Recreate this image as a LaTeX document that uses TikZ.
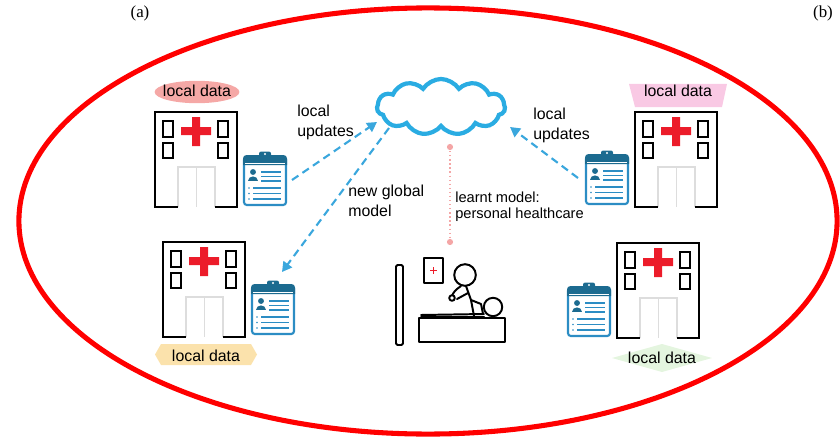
\documentclass[tikz,border=0pt]{standalone}
\usepackage{fontspec}
\setmainfont{Liberation Sans}
\newfontfamily\serifface{Liberation Serif}
\usetikzlibrary{arrows.meta,shapes.symbols}

\definecolor{ringred}{HTML}{FF0000}
\definecolor{cloudblue}{HTML}{2AACE2}
\definecolor{arrowblue}{HTML}{3AA7DD}
\definecolor{cbdark}{HTML}{1C6B90}
\definecolor{cbblue}{HTML}{2C8DC4}
\definecolor{crossred}{HTML}{EC1C2A}
\definecolor{doorgray}{HTML}{DDDDDD}
\definecolor{salmon}{HTML}{F5A8A6}
\definecolor{pinklabel}{HTML}{F9C9E4}
\definecolor{peach}{HTML}{FBE2AC}
\definecolor{mint}{HTML}{E4F5DF}
\definecolor{dotpink}{HTML}{F4A6A6}

\tikzset{
  lbl/.style={font=\fontsize{11.3}{14.2}\selectfont, inner sep=0pt, align=left, anchor=north west},
  datalbl/.style={font=\fontsize{11.3}{14.2}\selectfont, inner sep=0pt},
  flow/.style={arrowblue, line width=1.5pt, dash pattern=on 5.5pt off 3.5pt,
               -{Triangle[length=7pt,width=7.5pt]}},
  stick/.style={line width=1.4pt, line cap=round, line join=round},
  % hospital building, origin at its top-left corner (82 x 95 px)
  hospital/.pic={
    \draw[doorgray, line width=1.4pt] (23,95) -- (23,55) -- (60,55) -- (60,95)
                                      (41.5,55) -- (41.5,95);
    \draw[black, line width=1.5pt] (23,95) -- (0,95) -- (0,0) -- (82,0) -- (82,95) -- (60,95);
    \draw[black, line width=1.4pt] (8,9) rectangle (18,25) (8,31) rectangle (18,46)
                                   (63,9) rectangle (73,25) (63,31) rectangle (73,46);
    \fill[crossred] (26,15) rectangle (56,23) (37,5) rectangle (45,34);
  },
  % patient record clipboard, origin at its top-left corner (44 x 55 px)
  clipboard/.pic={
    \draw[cbblue, fill=white, line width=1.5pt, rounded corners=2pt] (1,6) rectangle (43,54);
    \fill[cbdark] (0,14) {[rounded corners=2.5pt] -- (0,4) -- (44,4)} -- (44,14) -- cycle;
    \fill[cbdark, rounded corners=1.5pt] (16,7) -- (16,0.5) -- (28,0.5) -- (28,7) -- cycle;
    \fill[white] (22,3) circle (0.8pt);
    \fill[white] (2,11.5) rectangle (42,12.6);
    \fill[cbdark] (10,21) circle (2.1pt);
    \fill[cbdark] (5,30) .. controls (5,24) and (15,24) .. (15,30) -- cycle;
    \draw[cbblue, line width=0.9pt] (18,21) -- (38,21) (18,25.5) -- (38,25.5) (18,30) -- (38,30)
                                   (10,37) -- (38,37) (10,42.5) -- (38,42.5) (10,48) -- (38,48);
    \fill[cbblue] (6,37) circle (0.6pt) (6,42.5) circle (0.6pt) (6,48) circle (0.6pt);
  }
}

\begin{document}
\begin{tikzpicture}[x=0.025cm, y=-0.025cm]
\useasboundingbox (0,0) rectangle (840,440);

% panel tags
\node[font=\serifface\fontsize{12}{14}\selectfont, inner sep=0pt] (tagA) at (140,13) {(a)};
\node[font=\serifface\fontsize{12}{14}\selectfont, inner sep=0pt] (tagB) at (823,13) {(b)};

% federation boundary
\draw[ringred, line width=3.6pt] (428,221) ellipse [x radius=10.225cm, y radius=5.325cm];

% label backgrounds
\fill[salmon] (197,92) ellipse [x radius=1.06cm, y radius=0.28cm];
\fill[pinklabel] (629,84) -- (727,84) -- (722,107) -- (635,107) -- cycle;
\fill[peach] (155,354.5) -- (161,344) -- (251,344) -- (257,354.5) -- (251,365) -- (161,365) -- cycle;
\fill[mint] (612,358) -- (662,344) -- (712,358) -- (662,372) -- cycle;

\node[datalbl] (dataTL) at (197,91) {local data};
\node[datalbl] (dataTR) at (678,91) {local data};
\node[datalbl] (dataBL) at (206,356) {local data};
\node[datalbl] (dataBR) at (662,357.5) {local data};

% hospitals and their records
\pic at (155,112) {hospital};
\pic at (635,112) {hospital};
\pic at (163,242) {hospital};
\pic at (617,243) {hospital};

\pic at (243,151) {clipboard};
\pic at (585,150) {clipboard};
\pic at (251,280) {clipboard};
\pic at (567,282) {clipboard};

% server
\node[cloud, draw=cloudblue, line width=3pt, fill=white, cloud puffs=11, cloud puff arc=115,
      aspect=2.4, minimum width=3.2cm, minimum height=1.4cm, inner sep=0pt] (server) at (441,107) {};

% connector end points
\coordinate (recTL) at (292,180);
\coordinate (recTR) at (578,178);
\coordinate (recBL) at (282,272);
\coordinate (inL)   at (377,122);
\coordinate (outL)  at (389,128);
\coordinate (inR)   at (510,127);
\coordinate (modTop) at (450,147);
\coordinate (modBot) at (450,242);

\draw[flow] (recTL) -- (inL);
\draw[flow] (outL) -- (recBL);
\draw[flow] (recTR) -- (inR);

\draw[dotpink, line width=0.9pt, dotted] (modTop) -- (modBot);
\fill[dotpink] (modTop) circle (2.2pt) (modBot) circle (2.2pt);

% connector labels
\node[lbl] (updL) at (297,105) {local\\updates};
\node[lbl] (updR) at (533,108) {local\\updates};
\node[lbl] (glob) at (348,185) {new global\\model};
\node[lbl, font=\fontsize{10.4}{11.4}\selectfont] (learnt) at (455,192) {learnt model:\\personal healthcare};

% consultation scene
\draw[stick, rounded corners=1pt] (396,265) rectangle (403,345);
\draw[stick] (424,258) rectangle (443,283);
\draw[crossred, line width=1pt] (430,270.5) -- (437,270.5) (433.5,267) -- (433.5,274);
\draw[stick] (419,318) rectangle (505,342);
\draw[stick] (421,315) -- (484,314);
\draw[stick] (421,317) -- (484,317);
\draw[stick, fill=white] (493,307) circle (0.23cm);
\draw[stick] (466,286) -- (471,300) -- (474,316);
\draw[stick] (471,300) -- (481,304) -- (483,314);
\draw[stick] (468,293) -- (457,299);
\draw[stick] (461,286) .. controls (455,290) and (453,293) .. (452,296);
\draw[stick, fill=white] (452,298) circle (0.07cm);
\draw[stick, fill=white] (465,275) circle (0.27cm);
\end{tikzpicture}
\end{document}
